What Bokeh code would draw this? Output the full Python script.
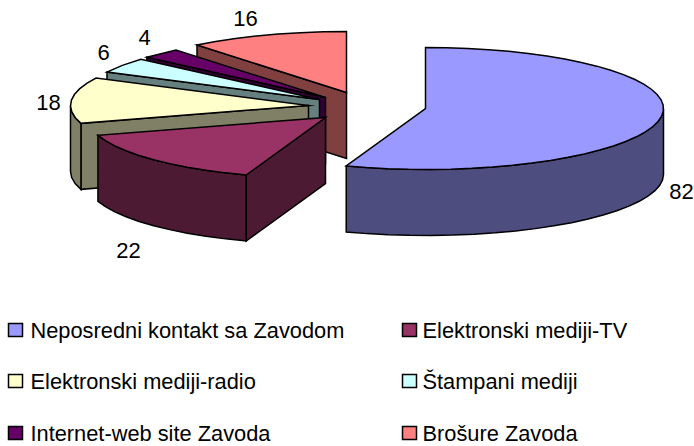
import math
from bokeh.plotting import figure
from bokeh.models import Range1d
from bokeh.core.properties import value
from bokeh.embed import file_html
from bokeh.resources import INLINE

categories = ["Neposredni kontakt sa Zavodom", "Elektronski mediji-TV", "Elektronski mediji-radio",
              "Štampani mediji", "Internet-web site Zavoda", "Brošure Zavoda"]
values = [82, 22, 18, 6, 4, 16]
top_colors = ["#9999FF", "#993366", "#FFFFCC", "#CCFFFF", "#660066", "#FF8080"]
side_colors = ["#4D4D80", "#4D1A33", "#808066", "#668080", "#330033", "#804040"]

# layout of the exploded pie
apex_x = [425, 325, 308, 319, 325, 346]
apex_y = [108, 117, 105, 99, 97, 92]
RX, RY, DEPTH = 238, 61, 66
label_x = [681, 128, 48, 103, 144, 245]
label_y = [191, 250, 102, 52, 37, 18]
legend_x = [8, 402, 8, 402, 8, 402]
legend_y = [330, 330, 381, 381, 433, 433]

p = figure(width=694, height=446, x_range=Range1d(0, 694), y_range=Range1d(446, 0),
           output_backend="svg", toolbar_location=None, min_border=0)
p.axis.visible = False
p.grid.visible = False
p.outline_line_color = None

total = sum(values)
angles = [0.0]
for v in values:
    angles.append(angles[-1] + v / total * 360)


def rim(i, a):
    r = math.radians(a)
    return apex_x[i] + RX * math.sin(r), apex_y[i] - RY * math.cos(r)


def arc(i, a0, a1, step=5.0):
    n = max(1, int(abs(a1 - a0) / step))
    return [rim(i, a0 + (a1 - a0) * k / n) for k in range(n + 1)]


LW = 1.5
style = dict(line_color="black", line_width=LW, line_join="miter")
for i in [5, 4, 3, 2, 1, 0]:
    a0, a1 = angles[i], angles[i + 1]
    sx, sy = rim(i, a0)
    # start cut wall
    if i != 0:
        p.patch([apex_x[i], sx, sx, apex_x[i]],
                [apex_y[i], sy, sy + DEPTH, apex_y[i] + DEPTH],
                fill_color=side_colors[i], **style)
    # visible outer wall
    v0, v1 = max(a0, 90), min(a1, 270)
    if v1 > v0:
        pts = arc(i, v0, v1)
        xs = [q[0] for q in pts] + [q[0] for q in reversed(pts)]
        ys = [q[1] for q in pts] + [q[1] + DEPTH for q in reversed(pts)]
        p.patch(xs, ys, fill_color=side_colors[i], **style)
    # top face
    pts = arc(i, a0, a1)
    p.patch([apex_x[i]] + [q[0] for q in pts], [apex_y[i]] + [q[1] for q in pts],
            fill_color=top_colors[i], **style)

p.text(label_x, label_y, text=[str(v) for v in values], text_align="center", text_baseline="middle",
       text_font=value("Liberation Sans"), text_font_size="22px", text_color="black")

p.quad(left=legend_x, right=[x + 14 for x in legend_x],
       top=[y - 7 for y in legend_y], bottom=[y + 6 for y in legend_y],
       fill_color=top_colors, line_color="black", line_width=1.5, line_join="miter")
p.text([x + (22 if x < 100 else 20) for x in legend_x], legend_y, text=categories,
       text_align="left", text_baseline="middle",
       text_font=value("Liberation Sans"), text_font_size="21.8px", text_color="black")

open("out.html", "w").write(file_html(p, INLINE))
